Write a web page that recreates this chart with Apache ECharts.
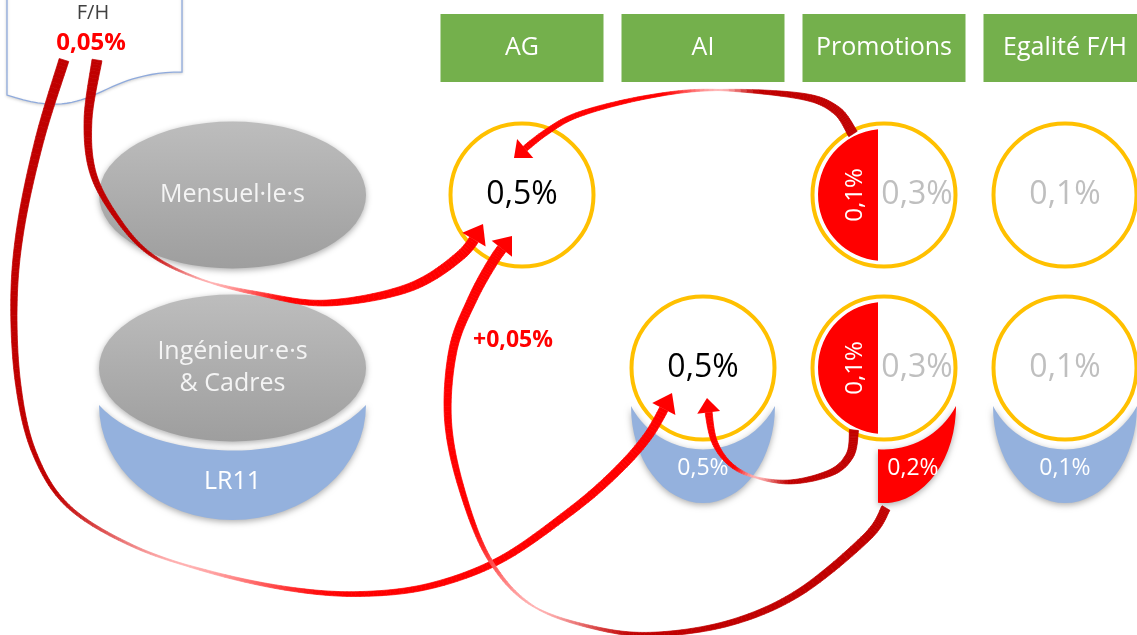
<!DOCTYPE html>
<html><head><meta charset="utf-8">
<script src="https://cdn.jsdelivr.net/npm/echarts@6/dist/echarts.min.js"></script>
<style>html,body{margin:0;padding:0;background:#fff;}#c{width:1137px;height:635px;}</style>
</head><body><div id="c"></div>
<script>
// ---------- DATA ----------
const columns = ['AG', 'AI', 'Promotions', 'Egalité F/H'];
const rows = ['Mensuel·le·s', 'Ingénieur·e·s\n& Cadres'];
const subgroupLabel = 'LR11';
// [column index, row index, value in %, kind]
const cellValues = [
  [0, 0, 0.5, 'total'],
  [1, 1, 0.5, 'total'],
  [2, 0, 0.3, 'other'],
  [2, 1, 0.3, 'other'],
  [3, 0, 0.1, 'other'],
  [3, 1, 0.1, 'other']
];
// part of the promotions budget reserved to F/H equality
const promoFHValues = [[2, 0, 0.1], [2, 1, 0.1]];
// LR11 sub-group values [column, row, value, kind]
const lr11Values = [[1, 1, 0.5, 'base'], [2, 1, 0.2, 'fh'], [3, 1, 0.1, 'base']];
const fhLabel = 'F/H';
const fhValue = 0.05;
const fhDeltaValue = 0.05;

// ---------- STYLE ----------
const FONT = '"Open Sans","Noto Sans",sans-serif';
const GREEN = '#74B04C', YELLOW = '#FFC000', BLUE = '#94B1DD', RED = '#FF0000';
const fmt = v => String(v).replace('.', ',') + '%';
const ellipsePath = (cx, cy, rx, ry) =>
  `M${cx - rx} ${cy} A${rx} ${ry} 0 1 0 ${cx + rx} ${cy} A${rx} ${ry} 0 1 0 ${cx - rx} ${cy} Z`;
const grayGrad = () => ({type: 'linear', x: 0, y: 0, x2: 0, y2: 1, colorStops: [
  {offset: 0, color: '#BDBDBD'}, {offset: 1, color: '#9E9E9E'}]});
const shadow = {shadowBlur: 6, shadowColor: 'rgba(0,0,0,0.32)', shadowOffsetY: 2};

// arrow routes (annotation connectors), tip is the last point
const arrowRoutes = [
  {name: 'F/H -> AI', ws: 10, wm: 1.4, we: 9, tm: 0.52, p1: 1.0, head: 21, headW: 26,
   pts: [[64,60],[40,138],[21,225],[14,300],[18,383],[34,452],[68,506],[133,546],[210,572],[290,589],[360,594],[430,586],[500,560],[567,514],[612,476],[648,436],[672,393]]},
  {name: 'F/H -> AG', ws: 10, wm: 1, we: 10, tm: 0.5, p1: 1.1, head: 20, headW: 27,
   pts: [[97,60],[88,120],[93,173],[117,218],[150,254],[200,279],[260,294],[327,303],[408,288],[461,255],[483,224]]},
  {name: 'Promo Mensuel -> AG', ws: 10, wm: 1, we: 6, tm: 0.42, p1: 0.9, head: 17, headW: 25,
   pts: [[853,134],[836,110],[800,96],[713,90],[647,97],[580,114],[545,133],[514,158]]},
  {name: 'Promo LR11 -> AG', ws: 9, wm: 1, we: 10, tm: 0.5, p1: 0.8, head: 18, headW: 26,
   pts: [[886,508],[867,537],[800,592],[733,622],[660,634],[600,629],[533,606],[490,560],[462,490],[448,420],[453,350],[472,300],[494,260],[512,236]]},
  {name: 'Promo Ing -> AI', ws: 9, wm: 1.2, we: 7, tm: 0.6, p1: 0.8, head: 17, headW: 23,
   pts: [[854,430],[850,455],[830,473],[785,482],[740,471],[715,443],[707,398]]}
];

function catmull(pts, steps) {
  const out = [];
  for (let i = 0; i < pts.length - 1; i++) {
    const p0 = pts[Math.max(i - 1, 0)], p1 = pts[i], p2 = pts[i + 1], p3 = pts[Math.min(i + 2, pts.length - 1)];
    for (let s = 0; s < steps; s++) {
      const t = s / steps, t2 = t * t, t3 = t2 * t;
      const f = (a, b, c, d) => 0.5 * (2 * b + (-a + c) * t + (2 * a - 5 * b + 4 * c - d) * t2 + (-a + 3 * b - 3 * c + d) * t3);
      out.push([f(p0[0], p1[0], p2[0], p3[0]), f(p0[1], p1[1], p2[1], p3[1])]);
    }
  }
  out.push(pts[pts.length - 1]);
  return out;
}
const smooth = x => { x = Math.max(0, Math.min(1, x)); return x * x * (3 - 2 * x); };
const mix = (a, b, f) => `rgb(${a.map((v, i) => Math.round(v + (b[i] - v) * f)).join(',')})`;
const DARK = [192, 0, 0], PALE = [255, 175, 175], BRIGHT = [255, 0, 0];
function widthAt(u, r) {
  if (u < r.tm) return r.wm + (r.ws - r.wm) * Math.pow(1 - u / r.tm, r.p1 || 1);
  return r.wm + (r.we - r.wm) * Math.pow((u - r.tm) / (1 - r.tm), 0.7);
}
function colorAt(u, r) {
  if (u < r.tm) return mix(DARK, PALE, smooth((u / r.tm - 0.72) / 0.28));
  return mix(PALE, BRIGHT, smooth(((u - r.tm) / (1 - r.tm)) / 0.3));
}
function buildArrow(r) {
  const pts = catmull(r.pts, 16);
  const cum = [0];
  for (let i = 1; i < pts.length; i++) cum.push(cum[i - 1] + Math.hypot(pts[i][0] - pts[i - 1][0], pts[i][1] - pts[i - 1][1]));
  const total = cum[cum.length - 1];
  let k = cum.findIndex(c => c >= total - r.head);
  const shaft = pts.slice(0, k + 1), sEnd = cum[k];
  const L = [], R = [];
  shaft.forEach((p, i) => {
    const a = shaft[Math.max(i - 1, 0)], b = shaft[Math.min(i + 1, shaft.length - 1)];
    const dx = b[0] - a[0], dy = b[1] - a[1], len = Math.hypot(dx, dy) || 1;
    const nx = -dy / len, ny = dx / len, w = widthAt(cum[i] / sEnd, r) / 2;
    L.push([p[0] + nx * w, p[1] + ny * w]); R.push([p[0] - nx * w, p[1] - ny * w]);
  });
  const els = [];
  for (let i = 0; i < shaft.length - 1; i++) {
    const c = colorAt((cum[i] + cum[i + 1]) / 2 / sEnd, r);
    els.push({type: 'polygon', z: 100, silent: true,
      shape: {points: [L[i], L[i + 1], R[i + 1], R[i]]},
      style: {fill: c, stroke: c, lineWidth: 0.7}});
  }
  const tip = pts[pts.length - 1], base = shaft[shaft.length - 1];
  const dx = tip[0] - base[0], dy = tip[1] - base[1], len = Math.hypot(dx, dy) || 1;
  const nx = -dy / len, ny = dx / len, hw = r.headW / 2;
  els.push({type: 'polygon', z: 101, silent: true,
    shape: {points: [[base[0] + nx * hw, base[1] + ny * hw], tip, [base[0] - nx * hw, base[1] - ny * hw]]},
    style: {fill: RED}});
  return els;
}
// document shape outline (F/H note)
function docShape() {
  const p = [[7, -70], [182, -70], [182, 72]];
  const P0 = [182, 72], C1 = [94.5, 72], C2 = [94.5, 125], P3 = [7, 95];
  for (let i = 1; i <= 30; i++) {
    const t = i / 30, u = 1 - t;
    p.push([u*u*u*P0[0] + 3*u*u*t*C1[0] + 3*u*t*t*C2[0] + t*t*t*P3[0],
            u*u*u*P0[1] + 3*u*u*t*C1[1] + 3*u*t*t*C2[1] + t*t*t*P3[1]]);
  }
  return p;
}

// ---------- CHART ----------
const chart = echarts.init(document.getElementById('c'));

const graphicEls = [
  {type: 'polygon', z: 90, silent: true,
   shape: {points: docShape()},
   style: {fill: '#fff', stroke: '#8FAADC', lineWidth: 1.3, shadowBlur: 3, shadowColor: 'rgba(0,0,0,0.15)', shadowOffsetY: 1}},
  {type: 'text', z: 91, silent: true, x: 93, y: 13,
   style: {text: fhLabel, align: 'center', verticalAlign: 'middle', fill: '#404040', fontSize: 20, fontFamily: FONT}},
  {type: 'text', z: 91, silent: true, x: 91, y: 43,
   style: {text: fmt(fhValue), align: 'center', verticalAlign: 'middle', fill: RED, fontSize: 24, fontWeight: 'bold', fontFamily: FONT}},
  {type: 'text', z: 102, silent: true, x: 513, y: 340,
   style: {text: '+' + fmt(fhDeltaValue), align: 'center', verticalAlign: 'middle', fill: RED, fontSize: 23, fontWeight: 'bold', fontFamily: FONT}}
];
arrowRoutes.forEach(r => graphicEls.push(...buildArrow(r)));

const option = {
  animation: false,
  backgroundColor: '#fff',
  grid: [
    {left: 431.5, top: 108.5, width: 724, height: 346, containLabel: false, outerBoundsMode: 'none'},
    {left: 99, top: 108.5, width: 267, height: 346, containLabel: false, outerBoundsMode: 'none'}
  ],
  xAxis: [
    {gridIndex: 0, type: 'category', data: columns, position: 'top',
     axisLine: {show: false}, axisTick: {show: false}, splitLine: {show: false},
     axisLabel: {interval: 0, margin: 26.5, color: '#fff', fontSize: 25, fontFamily: FONT,
       backgroundColor: GREEN, width: 163, height: 68, lineHeight: 68, align: 'center'}},
    {gridIndex: 1, type: 'category', data: ['segments'], show: false}
  ],
  yAxis: [
    {gridIndex: 0, type: 'category', data: rows, inverse: true, show: false},
    {gridIndex: 1, type: 'category', data: rows, inverse: true, show: false}
  ],
  series: [
    { // population segments (grey ellipses)
      type: 'custom', xAxisIndex: 1, yAxisIndex: 1, clip: false, silent: true,
      data: rows.map((r, i) => [0, i]),
      renderItem: (params, api) => {
        const [cx, cy] = api.coord([0, params.dataIndex]);
        return {type: 'group', children: [
          {type: 'path', shape: {pathData: ellipsePath(cx, cy, 133.5, 73.5)}, style: Object.assign({fill: grayGrad()}, shadow)},
          {type: 'text', style: {text: rows[params.dataIndex], x: cx, y: cy, align: 'center', verticalAlign: 'middle',
            fill: '#F4F4F4', fontSize: 25, lineHeight: 32, fontFamily: FONT}}
        ]};
      }
    },
    { // LR11 sub group bowl
      type: 'custom', xAxisIndex: 1, yAxisIndex: 1, clip: false, silent: true,
      data: [[0, 1]],
      renderItem: (params, api) => {
        const [cx, cy] = api.coord([0, 1]);
        const rx = 133.5, by = 37, ry2 = 115, crx = 149.3, cry = 82.5;
        const d = `M${cx - rx} ${cy + by} A${rx} ${ry2} 0 0 0 ${cx + rx} ${cy + by} A${crx} ${cry} 0 0 1 ${cx - rx} ${cy + by} Z`;
        return {type: 'group', children: [
          {type: 'path', shape: {pathData: d}, style: Object.assign({fill: BLUE}, shadow)},
          {type: 'text', style: {text: subgroupLabel, x: cx, y: cy + 114, align: 'center', verticalAlign: 'middle',
            fill: '#fff', fontSize: 25, fontFamily: FONT}}
        ]};
      }
    },
    { // LR11 values bowls
      type: 'custom', xAxisIndex: 0, yAxisIndex: 0, clip: false, silent: true,
      data: lr11Values.map(d => [d[0], d[1], d[2]]),
      renderItem: (params, api) => {
        const d = lr11Values[params.dataIndex];
        const [cx, cy] = api.coord([d[0], d[1]]);
        const bw = 72, by = 38, bry = 97, R = Math.hypot(bw, by);
        let path, tx = cx, fill = BLUE;
        if (d[3] === 'fh') {
          const x0 = cx - 6, yTop = cy + Math.sqrt(R * R - 36), yBot = cy + by + bry * Math.sqrt(1 - 36 / (bw * bw));
          path = `M${x0} ${yTop} L${x0} ${yBot} A${bw} ${bry} 0 0 0 ${cx + bw} ${cy + by} A${R} ${R} 0 0 1 ${x0} ${yTop} Z`;
          tx = cx + 29; fill = RED;
        } else {
          path = `M${cx - bw} ${cy + by} A${bw} ${bry} 0 0 0 ${cx + bw} ${cy + by} A${R} ${R} 0 0 1 ${cx - bw} ${cy + by} Z`;
        }
        return {type: 'group', children: [
          {type: 'path', shape: {pathData: path}, style: Object.assign({fill}, shadow)},
          {type: 'text', style: {text: fmt(d[2]), x: tx, y: cy + 100, align: 'center', verticalAlign: 'middle',
            fill: '#fff', fontSize: 23, fontFamily: FONT}}
        ]};
      }
    },
    { // main cells
      type: 'custom', xAxisIndex: 0, yAxisIndex: 0, clip: false, silent: true,
      data: cellValues.map(d => [d[0], d[1], d[2]]),
      renderItem: (params, api) => {
        const d = cellValues[params.dataIndex];
        const [cx, cy] = api.coord([d[0], d[1]]);
        const split = promoFHValues.some(q => q[0] === d[0] && q[1] === d[1]);
        return {type: 'group', children: [
          {type: 'circle', shape: {cx, cy, r: 71.5}, style: {fill: '#fff', stroke: YELLOW, lineWidth: 4}},
          {type: 'text', style: {text: fmt(d[2]), x: split ? cx + 33 : cx, y: cy, align: 'center', verticalAlign: 'middle',
            fill: d[3] === 'total' ? '#000' : '#BFBFBF', fontSize: 32, fontFamily: FONT}}
        ]};
      }
    },
    { // promotions F/H half
      type: 'custom', xAxisIndex: 0, yAxisIndex: 0, clip: false, silent: true,
      data: promoFHValues,
      renderItem: (params, api) => {
        const d = promoFHValues[params.dataIndex];
        const [cx, cy] = api.coord([d[0], d[1]]);
        const r = 66, off = 6, dy = Math.sqrt(r * r - off * off);
        return {type: 'group', children: [
          {type: 'path', shape: {pathData: `M${cx - off} ${cy - dy} A${r} ${r} 0 0 0 ${cx - off} ${cy + dy} Z`}, style: {fill: RED}},
          {type: 'text', x: cx - 29, y: cy, rotation: Math.PI / 2,
           style: {text: fmt(d[2]), x: 0, y: 0, align: 'center', verticalAlign: 'middle', fill: '#fff', fontSize: 24, fontFamily: FONT}}
        ]};
      }
    }
  ],
  graphic: {elements: graphicEls}
};
chart.setOption(option);
</script>
</body></html>
